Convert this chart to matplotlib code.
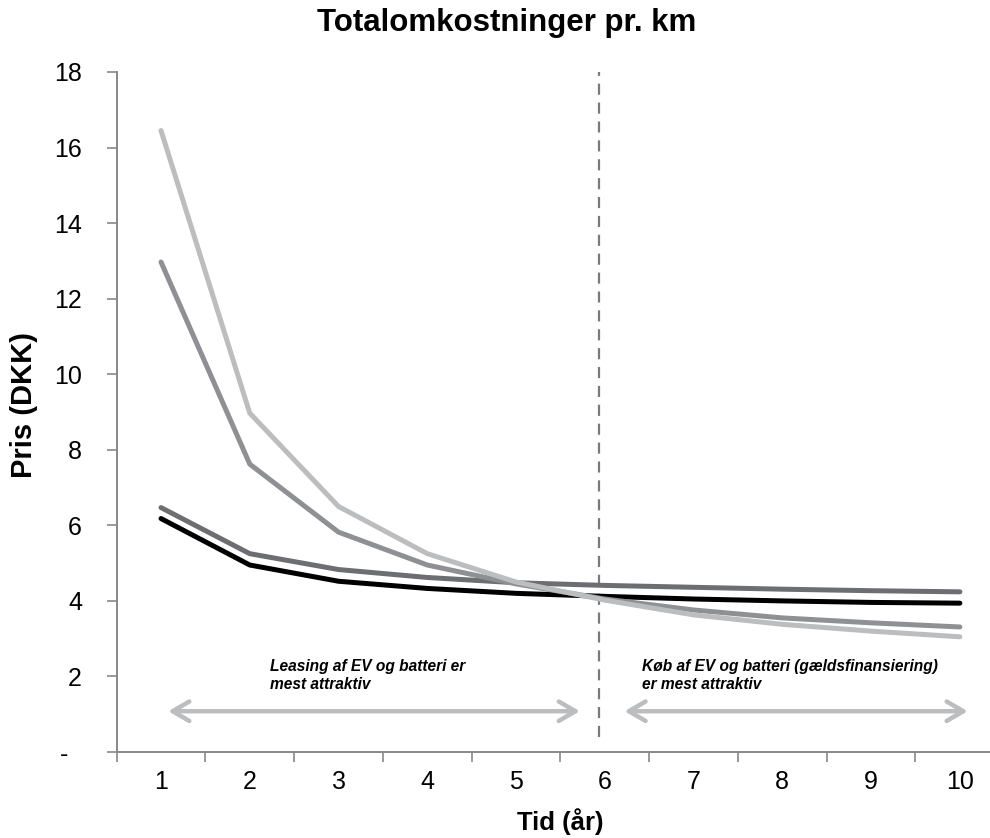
import matplotlib.pyplot as plt

plt.rcParams['font.family'] = ['Liberation Sans', 'DejaVu Sans']

# data
aar = [1, 2, 3, 4, 5, 6, 7, 8, 9, 10]
serie_lys = [16.45, 8.97, 6.50, 5.25, 4.50, 4.02, 3.63, 3.38, 3.20, 3.05]
serie_mellem = [12.97, 7.62, 5.82, 4.95, 4.45, 4.05, 3.76, 3.55, 3.42, 3.31]
serie_mork = [6.47, 5.25, 4.83, 4.62, 4.48, 4.41, 4.36, 4.31, 4.27, 4.24]
serie_sort = [6.18, 4.95, 4.52, 4.33, 4.20, 4.12, 4.05, 4.00, 3.96, 3.94]
yticks = [0, 2, 4, 6, 8, 10, 12, 14, 16, 18]
yticklabels = ['-  ', '2', '4', '6', '8', '10', '12', '14', '16', '18']

fig = plt.figure(figsize=(9.9, 8.38), dpi=100)
ax = fig.add_axes([0.1178, 0.1026, 0.8966, 0.8115])

ax.plot(aar, serie_sort, color='#000000', lw=3.6, solid_capstyle='round', zorder=3)
ax.plot(aar, serie_mork, color='#6d6e71', lw=3.6, solid_capstyle='round', zorder=3)
ax.plot(aar, serie_mellem, color='#8e9093', lw=3.6, solid_capstyle='round', zorder=3)
ax.plot(aar, serie_lys, color='#bcbdbf', lw=3.6, solid_capstyle='round', zorder=3)

# skillelinje
ax.plot([5.93, 5.93], [0.4, 18], color='#7a7a7a', lw=1.6, ls=(0, (5, 3.5)), zorder=2)

# pile
pil = dict(arrowstyle='<->,head_length=1.2,head_width=0.7', color='#bcbdbf', lw=3.2)
ax.annotate('', xy=(5.75, 1.08), xytext=(1.05, 1.08), arrowprops=pil)
ax.annotate('', xy=(10.12, 1.08), xytext=(6.19, 1.08), arrowprops=pil)

ax.text(2.23, 2.47, 'Leasing af EV og batteri er\nmest attraktiv', fontsize=11.2,
        fontweight='bold', fontstyle='italic', va='top', ha='left', linespacing=1.25)
ax.text(6.42, 2.47, 'Køb af EV og batteri (gældsfinansiering)\ner mest attraktiv', fontsize=11.2,
        fontweight='bold', fontstyle='italic', va='top', ha='left', linespacing=1.25)

ax.set_xlim(0.5, 10.5)
ax.set_ylim(0, 18)
ax.set_yticks(yticks)
ax.set_yticklabels(yticklabels)
ax.set_xticks(aar)
ax.set_xticks([x + 0.5 for x in range(0, 10)], minor=True)
ax.tick_params(axis='x', which='major', length=0, labelsize=18, pad=13)
ax.tick_params(axis='x', which='minor', length=7, color='#888888', width=1.2)
ax.tick_params(axis='y', length=7, color='#888888', width=1.2, labelsize=18, pad=18)

for s in ['top', 'right']:
    ax.spines[s].set_visible(False)
for s in ['left', 'bottom']:
    ax.spines[s].set_color('#888888')
    ax.spines[s].set_linewidth(1.4)

ax.set_xlabel('Tid (år)', fontsize=18.5, fontweight='bold', labelpad=10)
fig.text(0.024, 0.517, 'Pris (DKK)', fontsize=21, fontweight='bold', rotation=90,
         ha='center', va='center')
fig.text(0.512, 0.973, 'Totalomkostninger pr. km', fontsize=22.5, fontweight='bold',
         ha='center', va='center')

plt.savefig('out.png')
